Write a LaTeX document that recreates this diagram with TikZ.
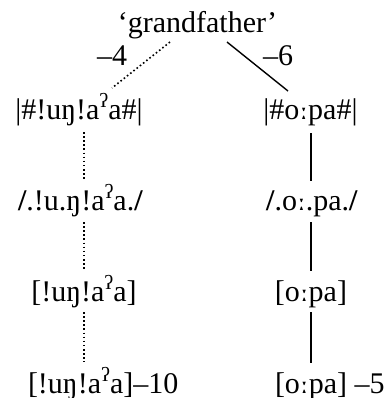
\documentclass[tikz,border=0pt]{standalone}
\usepackage{fontspec}
\setmainfont{Liberation Serif}
\newfontfamily\ipafont{DejaVu Serif}
\newcommand\glotmark{\raisebox{12bp}{\fontsize{20bp}{20bp}\selectfont ʔ}}
\newcommand\hslash{\textbf{/}}
\newcommand\lng{{\ipafont\fontsize{26bp}{26bp}\selectfont ː}}
\begin{document}
\begin{tikzpicture}[x=1bp,y=-1bp,
  lbl/.style={inner sep=0pt, outer sep=0pt, font=\fontsize{30bp}{36bp}\selectfont},
  dotline/.style={line width=1.6bp, dash pattern=on 1.6bp off 2.5bp},
  solidline/.style={line width=1.4bp}]
\useasboundingbox (0,0) rectangle (387,398);
\node[lbl, anchor=base] (g) at (197.5,32) {‘grandfather’};
\node[lbl, anchor=base west] (m4) at (97,65) {–4};
\node[lbl, anchor=base west] (m6) at (263,65) {–6};
\node[lbl, anchor=base] (l1) at (79,119) {|\#!uŋ!a\glotmark a\#|};
\node[lbl, anchor=base] (r1) at (310.5,119) {|\#o\lng pa\#|};
\node[lbl, anchor=base] (l2) at (80.5,210) {\hslash.!u.ŋ!a\glotmark a.\hslash};
\node[lbl, anchor=base] (r2) at (312,210) {\hslash.o\lng.pa.\hslash};
\node[lbl, anchor=base] (l3) at (84,301) {[!uŋ!a\glotmark a]};
\node[lbl, anchor=base] (r3) at (311,301) {[o\lng pa]};
\node[lbl, anchor=base west] (l4) at (28,393) {[!uŋ!a\glotmark a]–10};
\node[lbl, anchor=base west] (r4) at (275,393) {[o\lng pa] –5};
% connector end points
\coordinate (gL) at (170,42);
\coordinate (l1t) at (112,88);
\coordinate (gR) at (227,42);
\coordinate (r1t) at (288,91);
\draw[dotline] (gL) -- (l1t);
\draw[solidline] (gR) -- (r1t);
% left vertical dotted chain
\draw[dotline] ([yshift=-13bp]l1.base -| l3.base) -- ([yshift=31bp]l2.base -| l3.base);
\draw[dotline] ([yshift=-12bp]l2.base -| l3.base) -- ([yshift=32bp]l3.base);
\draw[dotline] ([yshift=-11bp]l3.base) -- ([yshift=31bp]l4.base -| l3.base);
% right vertical solid chain
\draw[solidline] ([yshift=-14bp]r1.base -| r3.base) -- ([yshift=29bp]r2.base -| r3.base);
\draw[solidline] ([yshift=-12bp]r2.base -| r3.base) -- ([yshift=30bp]r3.base);
\draw[solidline] ([yshift=-11bp]r3.base) -- ([yshift=30bp]r4.base -| r3.base);
\end{tikzpicture}
\end{document}
